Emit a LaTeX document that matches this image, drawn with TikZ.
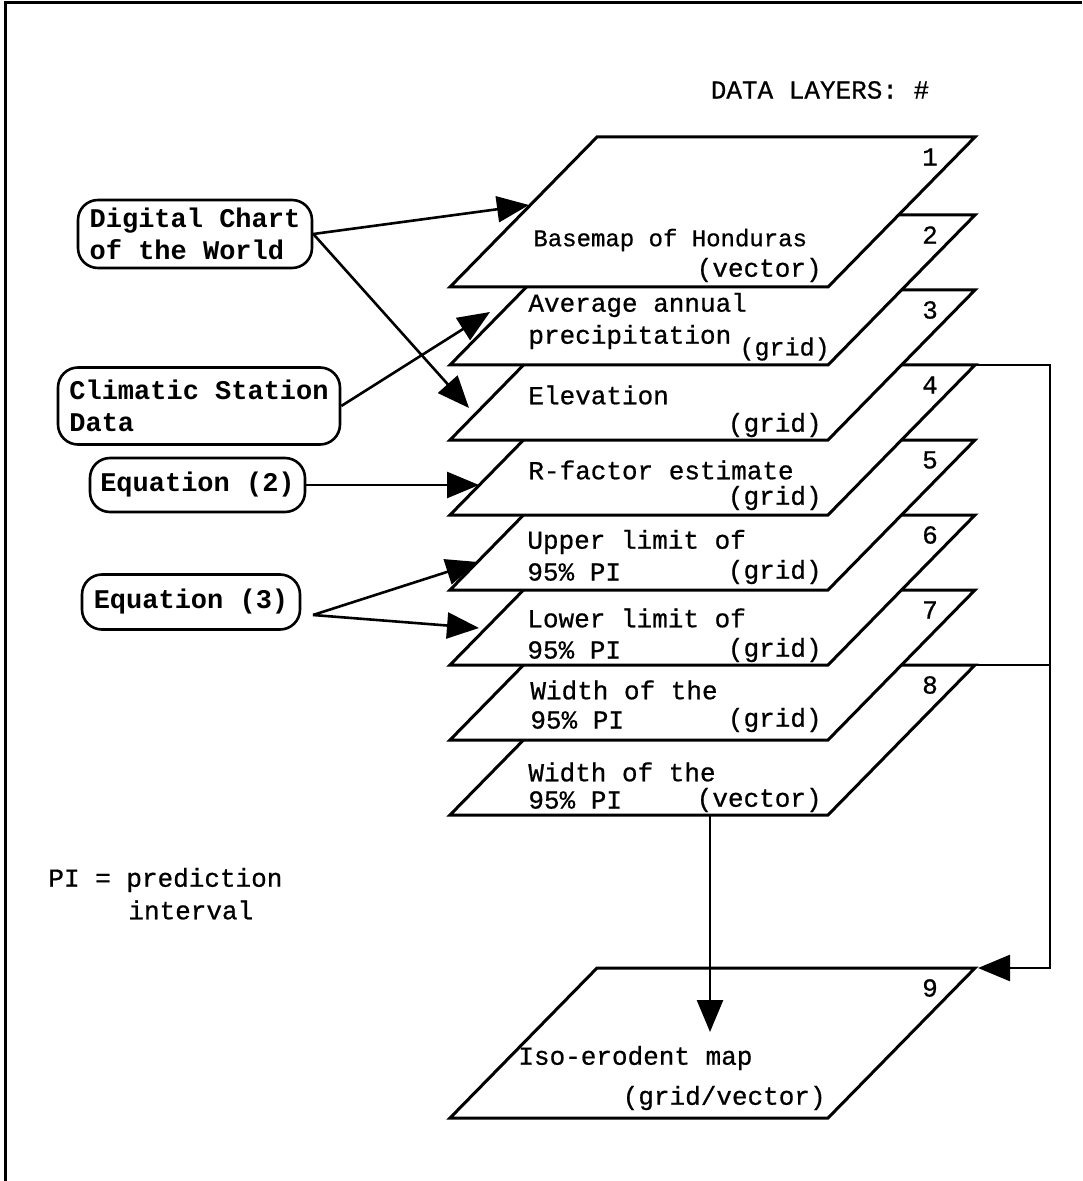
\documentclass[tikz,border=0pt]{standalone}
\usepackage{fontspec}
\setmonofont{Liberation Mono}
\newfontfamily\laymono{Liberation Mono}[FakeBold=0.7]
\usetikzlibrary{arrows.meta}
\newcommand\layerfont{\laymono\fontsize{13}{16}\selectfont}
\newcommand\srcfont{\ttfamily\bfseries\fontsize{13.5}{16}\selectfont}
\begin{document}
\begin{tikzpicture}[x=0.5pt, y=-0.5pt,
  layer/.style={draw, fill=white, line width=1.5pt, line join=miter},
  src/.style={draw, rounded corners=10pt, line width=1.3pt, align=left, inner sep=0pt, font=\srcfont},
  txt/.style={inner sep=0pt, font=\layerfont},
  conn/.style={line width=1.3pt, line join=miter, -{Triangle[length=16pt,width=13pt]}}]
\useasboundingbox (0,0) rectangle (1082,1181);
\draw [line width=1.5pt] (5,1181) -- (5,3) -- (1082,3);
\node [txt] (title) at (820,90) {DATA LAYERS: \#};
% layers, back to front
\foreach \k/\t in {8/665,7/590,6/515,5/440,4/365,3/290,2/215,1/137} {
  \filldraw [layer] (450,\t+150) -- (597,\t) -- (975,\t) -- (828,\t+150) -- cycle;
  \node [txt] (n\k) at (930,\t+20) {\k};
}
\filldraw [layer] (450,1118) -- (597,968) -- (975,968) -- (828,1118) -- cycle;
\node [txt] (n9) at (930,988) {9};
% layer texts
\node [txt, anchor=west, font=\laymono\fontsize{12}{14}\selectfont] (t1a) at (533,240) {Basemap of Honduras};
\node [txt, anchor=east] (t1b) at (822,270) {(vector)};
\node [txt, anchor=west] (t2a) at (528,305) {Average annual};
\node [txt, anchor=west] (t2b) at (528,337) {precipitation};
\node [txt, anchor=east, font=\laymono\fontsize{12.5}{15}\selectfont] (t2c) at (830,349) {(grid)};
\node [txt, anchor=west] (t3a) at (528,395) {Elevation};
\node [txt, anchor=east] (t3b) at (822,425) {(grid)};
\node [txt, anchor=west] (t4a) at (528,470) {R-factor estimate};
\node [txt, anchor=east] (t4b) at (822,498) {(grid)};
\node [txt, anchor=west] (t5a) at (527,542) {Upper limit of};
\node [txt, anchor=west] (t5b) at (527,572) {95\% PI};
\node [txt, anchor=east] (t5c) at (822,572) {(grid)};
\node [txt, anchor=west] (t6a) at (527,618) {Lower limit of};
\node [txt, anchor=west] (t6b) at (527,650) {95\% PI};
\node [txt, anchor=east] (t6c) at (822,650) {(grid)};
\node [txt, anchor=west] (t7a) at (530,690) {Width of the};
\node [txt, anchor=west] (t7b) at (530,720) {95\% PI};
\node [txt, anchor=east] (t7c) at (822,720) {(grid)};
\node [txt, anchor=west] (t8a) at (528,772) {Width of the};
\node [txt, anchor=west] (t8b) at (528,800) {95\% PI};
\node [txt, anchor=east] (t8c) at (822,800) {(vector)};
\node [txt, anchor=west] (t9a) at (518,1058) {Iso-erodent map};
\node [txt, anchor=east] (t9b) at (826,1098) {(grid/vector)};
% sources
\node [src, minimum width=117pt, minimum height=34pt] (dcw) at (195,234) {Digital Chart\\of the World};
\node [src, minimum width=141pt, minimum height=38.5pt] (clim) at (199,406) {Climatic Station\\Data};
\node [src, minimum width=107.5pt, minimum height=27pt] (eq2) at (197.5,485) {Equation (2)};
\node [src, minimum width=109pt, minimum height=27.5pt] (eq3) at (191,602) {Equation (3)};
\node [txt, anchor=west] (pi1) at (48,880) {PI = prediction};
\node [txt, anchor=west] (pi2) at (128,910) {interval};
% arrow ends
\coordinate (l1in) at (529,205);
\coordinate (l2in) at (490,312);
\coordinate (l3in) at (469,408);
\coordinate (l4in) at (479,485);
\coordinate (l5in) at (478,562);
\coordinate (l6in) at (479,628);
\coordinate (eq3out) at (313,615);
\coordinate (l4out) at (901,365);
\coordinate (fb1) at (1050,365);
\coordinate (fb2) at (1050,968);
\coordinate (l9ne) at (978,968);
\coordinate (l8top) at (901,665);
\coordinate (fb3) at (1050,665);
\coordinate (l8out) at (710,815);
\coordinate (l9in) at (710,1032);
\draw [conn] (dcw.east) -- (l1in);
\draw [conn] (dcw.east) -- (l3in);
\draw [conn] (clim.east) -- (l2in);
\draw [conn] (eq2.east) -- (l4in);
\draw [conn] (eq3out) -- (l5in);
\draw [conn] (eq3out) -- (l6in);
\draw [conn] (l4out) -- (fb1) -- (fb2) -- (l9ne);
\draw [line width=1.3pt] (l8top) -- (fb3);
\draw [conn] (l8out) -- (l9in);
\end{tikzpicture}
\end{document}
